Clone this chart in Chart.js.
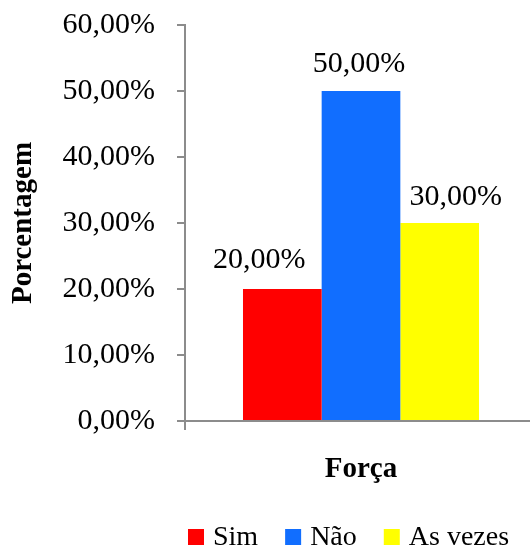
<!DOCTYPE html>
<html>
<head>
<meta charset="utf-8">
<script src="https://cdn.jsdelivr.net/npm/chart.js@4/dist/chart.umd.min.js"></script>
<style>
  html, body { margin: 0; padding: 0; background: #fff; }
  #wrap { width: 530px; height: 547px; }
</style>
</head>
<body>
<div id="wrap"><canvas id="c" width="530" height="547"></canvas></div>
<script>
// Survey answers for "Força", in percent
const categories = ['Força'];
const seriesNames = ['Sim', 'Não', 'As vezes'];
const simValues = [20];
const naoValues = [50];
const asVezesValues = [30];
const seriesColors = ['#FF0000', '#116EFF', '#FFFF00'];
const yTicks = [0, 10, 20, 30, 40, 50, 60];

const serif = "'Liberation Serif', 'Times New Roman', serif";
const axisGray = '#8C8C8C';

function pct(v) {
  return v.toFixed(2).replace('.', ',') + '%';
}

// Plot frame: value axis from y=25 to y=421, category axis running
// a little past the right edge of the canvas
const frame = {
  id: 'frame',
  afterLayout(chart) {
    const x = chart.scales.x;
    const y = chart.scales.y;
    const top = 25;
    x.right += 7;
    x.width += 7;
    x.configure();
    y.height = y.bottom - top;
    y.top = top;
    y.configure();
    chart.chartArea.top = top;
    chart.chartArea.height = chart.chartArea.bottom - top;
  }
};

// Value labels drawn above each bar; side labels are pushed outward a bit
// so neighbouring labels do not collide
const labelShift = [{ dx: -23, dy: 21 }, { dx: -2, dy: 19 }, { dx: 16, dy: 18 }];
const valueLabels = {
  id: 'valueLabels',
  afterDatasetsDraw(chart) {
    const ctx = chart.ctx;
    ctx.save();
    ctx.font = '30px ' + serif;
    ctx.fillStyle = '#000';
    ctx.textAlign = 'center';
    ctx.textBaseline = 'alphabetic';
    chart.data.datasets.forEach((ds, i) => {
      const s = labelShift[i];
      chart.getDatasetMeta(i).data.forEach((bar, j) => {
        ctx.fillText(pct(ds.data[j]), bar.x + s.dx, bar.y - s.dy);
      });
    });
    ctx.restore();
  }
};

// Legend row along the bottom: colour square followed by the series name
const bottomLegend = {
  id: 'bottomLegend',
  afterDraw(chart) {
    const ctx = chart.ctx;
    const box = 16, gapText = 9, gapItem = 27;
    const y = 529;
    ctx.save();
    ctx.font = '28px ' + serif;
    ctx.textBaseline = 'alphabetic';
    ctx.textAlign = 'left';
    let x = 188;
    chart.data.datasets.forEach(ds => {
      ctx.fillStyle = ds.backgroundColor;
      ctx.fillRect(x, y, box, box);
      x += box + gapText;
      ctx.fillStyle = '#000';
      ctx.fillText(ds.label, x, y + box);
      x += ctx.measureText(ds.label).width + gapItem;
    });
    ctx.restore();
  }
};

new Chart(document.getElementById('c'), {
  type: 'bar',
  data: {
    labels: categories,
    datasets: [
      { label: seriesNames[0], data: simValues, backgroundColor: seriesColors[0] },
      { label: seriesNames[1], data: naoValues, backgroundColor: seriesColors[1] },
      { label: seriesNames[2], data: asVezesValues, backgroundColor: seriesColors[2] }
    ]
  },
  options: {
    responsive: false,
    animation: false,
    devicePixelRatio: 1,
    layout: { padding: { top: 10, right: 0, bottom: 0, left: 0 } },
    datasets: { bar: { categoryPercentage: 0.6705, barPercentage: 1.0 } },
    plugins: {
      legend: { display: false },
      tooltip: { enabled: false }
    },
    scales: {
      x: {
        offset: true,
        border: { color: axisGray, width: 2 },
        grid: {
          display: true,
          drawOnChartArea: false,
          color: c => (c.index === 0 ? axisGray : 'rgba(0,0,0,0)'),
          lineWidth: 2,
          tickLength: 9,
          offset: true
        },
        ticks: {
          font: { family: serif, size: 29, weight: 'bold' },
          color: '#000',
          padding: 22
        },
        afterFit(scale) { scale.height = 126; }
      },
      y: {
        min: 0,
        max: 60,
        afterBuildTicks(scale) { scale.ticks = yTicks.map(v => ({ value: v })); },
        border: { color: axisGray, width: 2 },
        grid: { display: true, drawOnChartArea: false, color: axisGray, lineWidth: 2, tickLength: 8 },
        ticks: {
          font: { family: serif, size: 30 },
          color: '#000',
          padding: 22,
          callback: v => pct(v)
        },
        title: {
          display: true,
          text: 'Porcentagem',
          font: { family: serif, size: 29, weight: 'bold' },
          color: '#000',
          padding: { top: 6, bottom: 2 }
        },
        afterFit(scale) { scale.width = 185; }
      }
    }
  },
  plugins: [frame, valueLabels, bottomLegend]
});
</script>
</body>
</html>
